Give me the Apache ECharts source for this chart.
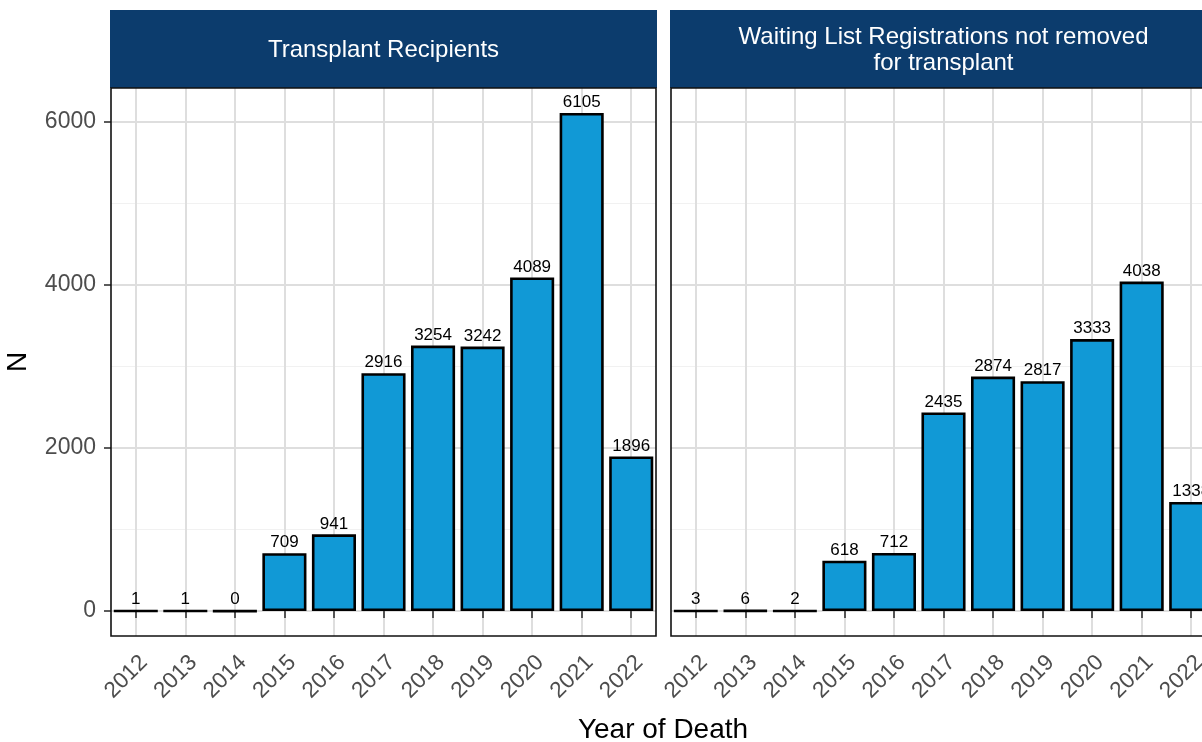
<!DOCTYPE html>
<html>
<head>
<meta charset="utf-8">
<script src="https://cdn.jsdelivr.net/npm/echarts@6/dist/echarts.min.js"></script>
<style>
  html, body { margin: 0; padding: 0; overflow: hidden; background: #fff; }
  #chart { width: 1232px; height: 742px; }
</style>
</head>
<body>
<div id="chart"></div>
<script>
// data
const years = ['2012', '2013', '2014', '2015', '2016', '2017', '2018', '2019', '2020', '2021', '2022'];
const recipients = [1, 1, 0, 709, 941, 2916, 3254, 3242, 4089, 6105, 1896];
const waiting = [3, 6, 2, 618, 712, 2435, 2874, 2817, 3333, 4038, 1338];
const yTicks = [0, 2000, 4000, 6000];
const panelTitles = ['Transplant Recipients', 'Waiting List Registrations not removed\nfor transplant'];

const font = '"Liberation Sans", Arial, sans-serif';
const stripColor = '#0c3c6d';
const barColor = '#1199d6';

// panel boxes
const panels = [
  { left: 111, width: 545 },
  { left: 671, width: 545 }
];
const panelTop = 88, panelHeight = 548, stripTop = 10;

const myChart = echarts.init(document.getElementById('chart'));

const xAxisBase = (gridIndex) => ({
  type: 'category',
  gridIndex,
  data: years,
  boundaryGap: true,
  axisLine: { show: false },
  axisTick: { show: true, alignWithLabel: true, length: 7, lineStyle: { color: '#333', width: 1.6 } },
  axisLabel: {
    rotate: 45, margin: 15, fontSize: 22.5, color: '#4d4d4d', fontFamily: font,
    verticalAlign: 'top'
  },
  splitLine: { show: true, alignWithLabel: true, lineStyle: { color: '#dedede', width: 2 } }
});

const yAxisBase = (gridIndex, showLabels) => ({
  type: 'value',
  gridIndex,
  min: -305,
  max: 6410,
  splitNumber: 3,
  axisLine: { show: false },
  axisTick: { show: showLabels, length: 7, customValues: yTicks, lineStyle: { color: '#333', width: 1.6 } },
  axisLabel: {
    show: showLabels, fontSize: 23, color: '#4d4d4d', fontFamily: font, margin: 15,
    customValues: yTicks,
    formatter: (v) => String(v)
  },
  splitLine: { show: true, lineStyle: { color: '#dedede', width: 2 } },
  minorTick: { show: false, splitNumber: 2 },
  minorSplitLine: { show: true, lineStyle: { color: '#f1f1f1', width: 1 } }
});

const barSeries = (idx, values) => ({
  type: 'bar',
  xAxisIndex: idx,
  yAxisIndex: idx,
  data: values,
  barWidth: '89%',
  itemStyle: { color: barColor, borderColor: '#000', borderWidth: 2.6 },
  label: {
    show: true, position: 'top', distance: 2, fontSize: 17, color: '#000', fontFamily: font
  }
});

const graphics = [];
panels.forEach((p, i) => {
  // strip
  graphics.push({
    type: 'rect',
    shape: { x: p.left - 1, y: stripTop, width: p.width + 2, height: panelTop - stripTop },
    style: { fill: stripColor },
    z: 10
  });
  graphics.push({
    type: 'text',
    x: p.left + p.width / 2,
    y: (stripTop + panelTop) / 2 + 1,
    style: {
      text: panelTitles[i], fill: '#fff', fontSize: 24, fontFamily: font,
      align: 'center', verticalAlign: 'middle', lineHeight: 26
    },
    z: 11
  });
  // panel border on top of grid lines
  graphics.push({
    type: 'rect',
    shape: { x: p.left, y: panelTop, width: p.width, height: panelHeight },
    style: { fill: null, stroke: '#111', lineWidth: 1.6 },
    z: 12
  });
});
graphics.push({
  type: 'text', x: 663, y: 730,
  style: { text: 'Year of Death', fill: '#000', fontSize: 28, fontFamily: font, align: 'center', verticalAlign: 'middle' }
});
graphics.push({
  type: 'text', x: 18, y: 362, rotation: Math.PI / 2,
  style: { text: 'N', fill: '#000', fontSize: 28, fontFamily: font, align: 'center', verticalAlign: 'middle' }
});

const option = {
  animation: false,
  grid: panels.map((p) => ({
    left: p.left, width: p.width, top: panelTop, height: panelHeight,
    show: true, borderWidth: 0, backgroundColor: '#fff'
  })),
  xAxis: [xAxisBase(0), xAxisBase(1)],
  yAxis: [yAxisBase(0, true), yAxisBase(1, false)],
  series: [barSeries(0, recipients), barSeries(1, waiting)],
  graphic: graphics
};
myChart.setOption(option);
</script>
</body>
</html>
